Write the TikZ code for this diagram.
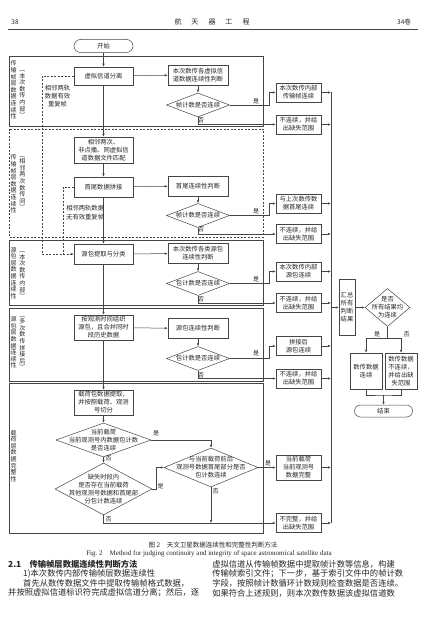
\documentclass[tikz,border=0pt]{standalone}
\usepackage{fontspec}
\setmainfont{Noto Sans CJK SC}
\newfontfamily\latinfont{Liberation Serif}
\usetikzlibrary{arrows.meta}
\usetikzlibrary{shapes.geometric}
\definecolor{ln}{HTML}{454545}
\definecolor{tx}{HTML}{262626}

\begin{document}
\begin{tikzpicture}[
    x=1pt, y=-1pt,
    line width=0.5pt,
    every node/.style={text=tx},
    box/.style={draw=ln, rectangle, inner sep=1pt, align=center, font=\fontsize{6.3}{8}\selectfont, minimum width=59pt, minimum height=20pt},
    rbox/.style={box, minimum width=45pt, minimum height=19pt},
    dia/.style={draw=ln, diamond, inner sep=-16pt, align=center, font=\fontsize{6.3}{8}\selectfont, minimum width=63pt, minimum height=24pt},
    term/.style={draw=ln, rounded corners=6.5pt, minimum width=59pt, minimum height=13pt, inner sep=0pt, font=\fontsize{6.3}{8}\selectfont},
    frame/.style={draw=ln, line width=0.6pt},
    dline/.style={draw=ln, dash pattern=on 2pt off 1.5pt},
    vlab/.style={align=center, inner sep=0pt, font=\fontsize{6}{6.6}\selectfont},
    yn/.style={font=\fontsize{6}{7}\selectfont, inner sep=0pt},
    arr/.style={draw=ln, -{Latex[length=3pt,width=2.4pt]}},
    body/.style={anchor=west, inner sep=0pt, font=\fontsize{8.3}{10}\selectfont}
]
\fill[white] (0,0) rectangle (427,631);
\useasboundingbox (0,0) rectangle (427,631);

% page head
\node[font=\fontsize{6.5}{8}\selectfont] (pno) at (15,22) {38};
\node[font=\fontsize{7}{8}\selectfont] (jname) at (212,22) {航\hspace{10pt}天\hspace{10pt}器\hspace{10pt}工\hspace{10pt}程};
\node[font=\fontsize{6.5}{8}\selectfont] (vol) at (404,22) {34卷};
\draw[ln, line width=0.6pt] (8,29) -- (418,29);

% frames of the five checks
\draw[frame] (9,56) rectangle (263,126);
\draw[frame, dline] (9,129) rectangle (263,237);
\draw[frame] (9,240) rectangle (263,305);
\draw[frame] (9,308) rectangle (263,381);
\draw[frame] (9,383) rectangle (263,533);

% side titles
\node[vlab] (t1a) at (13.5,90) {传\\输\\帧\\层\\数\\据\\连\\续\\性};
\node[vlab] (t1b) at (22.5,94) {︵\\本\\次\\数\\传\\内\\部\\︶};
\node[vlab] (t2a) at (13.5,184) {传\\输\\帧\\层\\数\\据\\连\\续\\性};
\node[vlab] (t2b) at (22.5,183) {︵\\相\\邻\\两\\次\\数\\传\\间\\︶};
\node[vlab] (t3a) at (13.5,273) {源\\包\\层\\数\\据\\连\\续\\性};
\node[vlab] (t3b) at (22.5,275) {︵\\本\\次\\数\\传\\内\\部\\︶};
\node[vlab] (t4a) at (13.5,342.5) {源\\包\\层\\数\\据\\连\\续\\性};
\node[vlab] (t4b) at (22.5,343) {︵\\多\\次\\数\\传\\拼\\接\\后\\︶};
\node[vlab] (t5a) at (13.5,456) {载\\荷\\层\\数\\据\\完\\整\\性};

% main column
\node[term] (start) at (103.5,46) {开始};
\node[box, minimum height=18pt] (vsep) at (103.5,76) {虚拟信道分离};
\node[box, minimum height=26pt] (match) at (103.5,150) {相邻两次、\\非点播、同虚拟信\\道数据文件匹配};
\node[box] (splice) at (103.5,187) {首尾数据拼接};
\node[box] (pkx) at (103.5,254) {源包提取与分类};
\node[box, minimum height=25pt] (porg) at (103.5,327.5) {按观测时间组织\\源包，且合并同时\\段历史数据};
\node[box, minimum height=25pt] (load) at (103.5,402.5) {载荷包数据提取，\\并按照载荷、观测\\号切分};
\node[dia, minimum width=95pt, minimum height=34pt] (d5a) at (103.5,440) {当前载荷\\当前观测号内数据包计数\\是否连续};
\node[dia, minimum width=97pt, minimum height=52pt] (d5c) at (103.5,489) {缺失时段内\\是否存在当前载荷\\其他观测号数据和首尾部\\分包计数连续};
\node[dia, minimum width=94pt, minimum height=39pt] (d5b) at (211,467.5) {与当前载荷前后\\观测号数据首尾部分是否\\包计数连续};

% second column
\node[box, minimum width=60pt] (vcj) at (198,75) {本次数传各虚拟信\\道数据连续性判断};
\node[dia] (d1) at (198,105) {帧计数是否连续};
\node[box, minimum width=60pt] (htj) at (198,186) {首尾连续性判断};
\node[dia] (d2) at (198,215.5) {帧计数是否连续};
\node[box, minimum width=60pt] (pcj) at (198,253.5) {本次数传各类源包\\连续性判断};
\node[dia] (d3) at (198,283.5) {包计数是否连续};
\node[box, minimum width=60pt] (spj) at (198,328.5) {源包连续性判断};
\node[dia] (d4) at (198,358.5) {包计数是否连续};

% results
\node[rbox] (r1a) at (298.5,92.5) {本次数传内部\\传输帧连续};
\node[rbox] (r1b) at (298.5,124.5) {不连续，并给\\出缺失范围};
\node[rbox] (r2a) at (298.5,203.5) {与上次数传数\\据首尾连续};
\node[rbox] (r2b) at (298.5,234) {不连续，并给\\出缺失范围};
\node[rbox] (r3a) at (298.5,271.5) {本次数传内部\\源包连续};
\node[rbox] (r3b) at (298.5,303) {不连续，并给\\出缺失范围};
\node[rbox] (r4a) at (298.5,346) {拼接后\\源包连续};
\node[rbox] (r4b) at (298.5,378.5) {不连续，并给\\出缺失范围};
\node[rbox, minimum height=25pt] (r5a) at (298.5,467.5) {当前载荷\\当前观测号\\数据完整};
\node[rbox] (r5b) at (298.5,523) {不完整，并给\\出缺失范围};

% summary
\node[box, minimum width=16pt, minimum height=56pt] (sum) at (347,307.5) {汇总\\所有\\判断\\结果};
\node[dia, minimum width=45pt, minimum height=38pt] (dsum) at (387.5,307.5) {是否\\所有结果均\\为连续};
\node[box, minimum width=32pt, minimum height=36pt] (ok) at (366,371) {数传数据\\连续};
\node[box, minimum width=32pt, minimum height=36pt] (nok) at (401,371) {数传数据\\不连续，\\并给出缺\\失范围};
\node[term, minimum width=58pt, minimum height=12pt, rounded corners=6pt] (end) at (383.5,411) {结束};

% main flow
\draw[arr] (start) -- (vsep);
\draw[arr] (vsep) -- (match);
\draw[arr] (match) -- (splice);
\draw[arr] (splice) -- (pkx);
\draw[arr] (pkx) -- (porg);
\draw[arr] (porg) -- (load);
\draw[arr] (load) -- (d5a);
\draw[arr] (d5a) -- (d5c);

% checks
\draw[arr] (vsep) -- (vcj);
\draw[arr] (splice) -- (htj);
\draw[arr] (pkx) -- (pcj);
\draw[arr] (porg) -- (spj);
\draw[arr] (vcj) -- (d1);
\draw[arr] (htj) -- (d2);
\draw[arr] (pcj) -- (d3);
\draw[arr] (spj) -- (d4);
\draw[arr] (d1.east) -- ++(39,0) |- (r1a.west);
\draw[arr] (d1.south) |- (r1b.west);
\draw[arr] (d2.east) -- ++(39,0) |- (r2a.west);
\draw[arr] (d2.south) |- (r2b.west);
\draw[arr] (d3.east) -- ++(39,0) |- (r3a.west);
\draw[arr] (d3.south) |- (r3b.west);
\draw[arr] (d4.east) -- ++(39,0) |- (r4a.west);
\draw[arr] (d4.south) |- (r4b.west);

% payload check
\draw[arr] (d5a.east) -| (d5b.north);
\draw[arr] (d5c.east) -- ++(4,0) |- (d5b.west);
\draw[arr] (d5b) -- (r5a);
\coordinate (m5) at (d5b.south |- r5b.west);
\draw[arr] (d5b.south) -- (m5);
\draw[arr] (d5c.south) |- (r5b.west);

% yes / no
\node[yn] (y1) at (256,101) {是};
\node[yn] (n1) at (201,120.5) {否};
\node[yn] (y2) at (256,211) {是};
\node[yn] (n2) at (201,229.5) {否};
\node[yn] (y3) at (256,279.5) {是};
\node[yn] (n3) at (201,299) {否};
\node[yn] (y4) at (256,353.5) {是};
\node[yn] (n4) at (201,375) {否};
\node[yn] (y5a) at (156,433.5) {是};
\node[yn] (n5a) at (108.5,458) {否};
\node[yn] (y5c) at (160.5,486) {是};
\node[yn] (y5b) at (268,463) {是};
\node[yn] (n5b) at (215.5,491) {否};
\node[yn] (n5c) at (108.5,519) {否};
\node[yn] (ys) at (377,334) {是};
\node[yn] (ns) at (406.5,334) {否};

% duplicate frame paths
\coordinate (dj) at (63,254);
\draw[dline] (vsep.west) -| (42,254) -- (dj);
\draw[dline] (splice.west) -| (dj);
\draw[dline, -{Latex[length=3pt,width=2.4pt]}] (dj) -- (pkx.west);
\node[vlab, font=\fontsize{6.3}{8}\selectfont] (dupy) at (57.5,96) {相邻两轨\\数据有效\\重复帧};
\node[vlab, font=\fontsize{6.3}{8.5}\selectfont, align=left, anchor=west] (dupn) at (66,212.5) {相邻两轨数据\\无有效重复帧};

% collect
\coordinate (bt) at (331,92.5);
\coordinate (bb) at (331,523);
\draw[ln] (bt) -- (bb);
\foreach \r in {r1a,r1b,r2a,r2b,r3a,r3b,r4a,r4b,r5a,r5b}
    \draw[arr] (\r.east) -- (\r.east -| bt);
\draw[arr] (sum.west -| bt) -- (sum.west);
\draw[arr] (sum) -- (dsum);
\draw[ln] (dsum.south) -- ++(0,11) coordinate (sj);
\draw[arr] (sj) -| (ok.north);
\draw[arr] (sj) -| (nok.north);
\coordinate (ej) at (383.5,395);
\draw[ln] (ok.south) |- (ej) -| (nok.south);
\draw[arr] (ej) -- (end);

% caption
\node[font=\fontsize{6.5}{8}\selectfont] (cap) at (213,545) {图 2\quad 天文卫星数据连续性和完整性判断方法};
\node[font=\latinfont\fontsize{7}{8}\selectfont] (capen) at (209,554) {Fig.~2\quad Method for judging continuity and integrity of space astronomical satellite data};

% text below
\node[body, font=\fontsize{8.3}{10}\selectfont\bfseries] (sec) at (8,564) {2.1\quad 传输帧层数据连续性判断方法};
\node[body] (l1) at (23,574) {1)本次数传内部传输帧层数据连续性};
\node[body] (l2) at (23,583.5) {首先从数传数据文件中提取传输帧格式数据，};
\node[body] (l3) at (8,593) {并按照虚拟信道标识符完成虚拟信道分离；然后，逐};
\node[body] (m1) at (212,564) {虚拟信道从传输帧数据中提取帧计数等信息，构建};
\node[body] (m2) at (212,574) {传输帧索引文件；下一步，基于索引文件中的帧计数};
\node[body] (m3) at (212,583.5) {字段，按照帧计数循环计数规则检查数据是否连续。};
\node[body] (m4) at (212,593) {如果符合上述规则，则本次数传数据该虚拟信道数};

\end{tikzpicture}
\end{document}
